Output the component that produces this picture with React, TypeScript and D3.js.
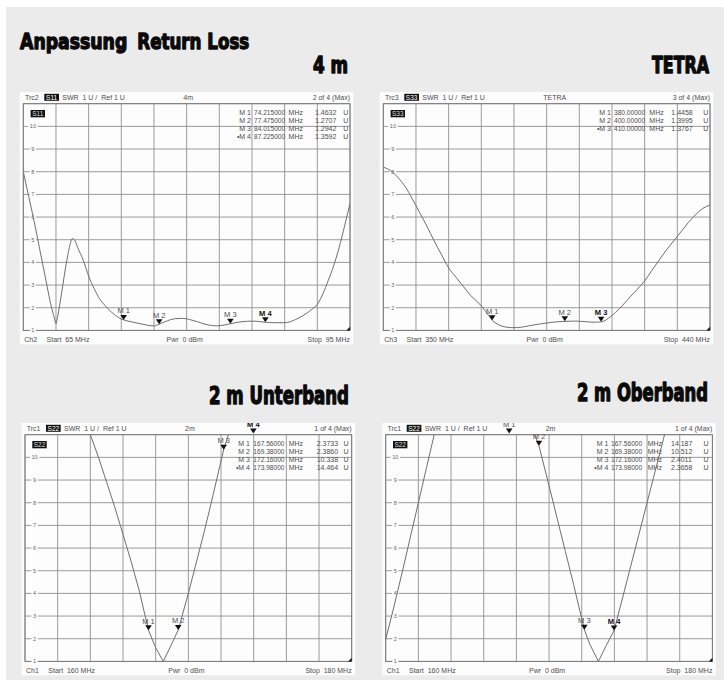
import React from "react";
import * as d3 from "d3";

const W = 724;
const H = 680;
const PW = 326.7;
const PH = 226.7;
const SWR_MIN = 1;
const SWR_MAX = 11;
const yTickValues = [1, 2, 3, 4, 5, 6, 7, 8, 9, 10];

const titleTexts = ["Anpassung", "Return Loss", "4 m", "TETRA", "2 m Unterband", "2 m Oberband"];

// ---------- Panel 1 : 4 m ----------
const p1Freq = [65, 65.5, 66, 66.5, 67, 67.5, 67.85, 68, 68.15, 68.5, 69, 69.3, 69.5, 69.75, 70, 70.5, 71, 71.5, 72, 72.5, 73, 73.5, 74, 74.215, 75, 76, 76.5, 77, 77.475, 78, 78.5, 79, 79.5, 80, 80.5, 81, 81.5, 82, 82.75, 83.5, 84.015, 84.5, 85, 85.5, 86, 86.5, 87.225, 88, 89, 89.5, 90, 90.5, 91, 91.5, 92, 92.5, 93, 93.5, 94, 94.5, 95];
const p1Swr = [8.0, 6.9, 5.8, 4.6, 3.4, 2.2, 1.55, 1.3, 1.6, 2.6, 4.1, 4.8, 5.05, 4.95, 4.65, 4.1, 3.4, 2.85, 2.4, 2.1, 1.85, 1.65, 1.5, 1.4632, 1.37, 1.27, 1.22, 1.2, 1.2707, 1.38, 1.47, 1.52, 1.53, 1.51, 1.45, 1.38, 1.3, 1.24, 1.2, 1.24, 1.2942, 1.34, 1.38, 1.4, 1.41, 1.4, 1.3592, 1.34, 1.34, 1.38, 1.48, 1.6, 1.75, 1.93, 2.15, 2.6, 3.2, 3.85, 4.65, 5.6, 6.6];
const p1MarkerNames = ["M 1", "M 2", "M 3", "M 4"];
const p1MarkerFreq = [74.215, 77.475, 84.015, 87.225];
const p1MarkerSwr = [1.4632, 1.2707, 1.2942, 1.3592];
const p1MarkerFreqText = ["74.215000", "77.475000", "84.015000", "87.225000"];
const p1MarkerSwrText = ["1.4632", "1.2707", "1.2942", "1.3592"];

// ---------- Panel 2 : TETRA ----------
const p2Freq = [350, 352, 354, 356, 358, 360, 362, 364, 366, 368, 370, 372, 374, 376, 377, 378, 379, 380, 381, 382, 384, 386, 388, 390, 393, 396, 400, 403, 406, 408, 410, 411, 412, 413, 414, 416, 418, 420, 422, 424, 426, 428, 430, 432, 434, 436, 438, 440];
const p2Swr = [8.2, 8.05, 7.75, 7.35, 6.8, 6.2, 5.6, 4.95, 4.35, 3.76, 3.35, 2.95, 2.55, 2.25, 2.08, 1.88, 1.66, 1.4458, 1.32, 1.23, 1.14, 1.12, 1.14, 1.2, 1.28, 1.35, 1.3995, 1.41, 1.38, 1.36, 1.3767, 1.43, 1.53, 1.66, 1.8, 2.12, 2.48, 2.82, 3.18, 3.65, 4.1, 4.55, 4.95, 5.35, 5.75, 6.1, 6.38, 6.53];
const p2MarkerNames = ["M 1", "M 2", "M 3"];
const p2MarkerFreq = [380, 400, 410];
const p2MarkerSwr = [1.4458, 1.3995, 1.3767];
const p2MarkerFreqText = ["380.00000", "400.00000", "410.00000"];
const p2MarkerSwrText = ["1.4458", "1.3995", "1.3767"];

// ---------- Panel 3 : 2 m Unterband ----------
const p3Freq = [163.5, 164.0, 164.5, 165.0, 165.5, 166.0, 166.5, 167.0, 167.56, 168.0, 168.47, 169.0, 169.38, 170.0, 170.5, 171.0, 171.5, 172.16, 173.98];
const p3Swr = [12.1, 11.0, 10.0, 8.9, 7.8, 6.6, 5.4, 4.1, 2.3733, 1.6, 1.0, 1.8, 2.386, 4.0, 5.4, 6.8, 8.3, 10.338, 14.464];
const p3MarkerNames = ["M 1", "M 2", "M 3", "M 4"];
const p3MarkerFreq = [167.56, 169.38, 172.16, 173.98];
const p3MarkerSwr = [2.3733, 2.386, 10.338, 14.464];
const p3MarkerFreqText = ["167.56000", "169.38000", "172.16000", "173.98000"];
const p3MarkerSwrText = ["2.3733", "2.3860", "10.338", "14.464"];

// ---------- Panel 4 : 2 m Oberband ----------
const p4Freq = [160, 160.5, 161, 161.5, 162, 162.5, 163, 167.56, 169.38, 170, 170.5, 171, 171.5, 172.16, 172.5, 173.02, 173.5, 173.98, 174.5, 175, 175.5, 176, 176.5, 177, 177.5];
const p4Swr = [1.97, 3.4, 4.9, 6.45, 8.0, 9.55, 11.1, 14.187, 10.512, 8.75, 7.3, 5.85, 4.4, 2.4011, 1.75, 1.0, 1.7, 2.3658, 3.8, 5.2, 6.6, 8.0, 9.4, 10.8, 12.2];
const p4MarkerNames = ["M 1", "M 2", "M 3", "M 4"];
const p4MarkerFreq = [167.56, 169.38, 172.16, 173.98];
const p4MarkerSwr = [14.187, 10.512, 2.4011, 2.3658];
const p4MarkerFreqText = ["167.56000", "169.38000", "172.16000", "173.98000"];
const p4MarkerSwrText = ["14.187", "10.512", "2.4011", "2.3658"];

type PanelData = {
  freq: number[];
  swr: number[];
  fmin: number;
  fmax: number;
  trc: string;
  param: string;
  name: string;
  count: string;
  ch: string;
  start: string;
  stop: string;
  mNames: string[];
  mFreq: number[];
  mSwr: number[];
  mFreqText: string[];
  mSwrText: string[];
  active: number;
  linear: boolean;
};

const panels: PanelData[] = [
  { freq: p1Freq, swr: p1Swr, fmin: 65, fmax: 95, trc: "Trc2", param: "S11", name: "4m", count: "2 of 4 (Max)", ch: "Ch2", start: "Start  65 MHz", stop: "Stop  95 MHz", mNames: p1MarkerNames, mFreq: p1MarkerFreq, mSwr: p1MarkerSwr, mFreqText: p1MarkerFreqText, mSwrText: p1MarkerSwrText, active: 3, linear: false },
  { freq: p2Freq, swr: p2Swr, fmin: 350, fmax: 440, trc: "Trc3", param: "S33", name: "TETRA", count: "3 of 4 (Max)", ch: "Ch3", start: "Start  350 MHz", stop: "Stop  440 MHz", mNames: p2MarkerNames, mFreq: p2MarkerFreq, mSwr: p2MarkerSwr, mFreqText: p2MarkerFreqText, mSwrText: p2MarkerSwrText, active: 2, linear: false },
  { freq: p3Freq, swr: p3Swr, fmin: 160, fmax: 180, trc: "Trc1", param: "S22", name: "2m", count: "1 of 4 (Max)", ch: "Ch1", start: "Start  160 MHz", stop: "Stop  180 MHz", mNames: p3MarkerNames, mFreq: p3MarkerFreq, mSwr: p3MarkerSwr, mFreqText: p3MarkerFreqText, mSwrText: p3MarkerSwrText, active: 3, linear: true },
  { freq: p4Freq, swr: p4Swr, fmin: 160, fmax: 180, trc: "Trc1", param: "S22", name: "2m", count: "1 of 4 (Max)", ch: "Ch1", start: "Start  160 MHz", stop: "Stop  180 MHz", mNames: p4MarkerNames, mFreq: p4MarkerFreq, mSwr: p4MarkerSwr, mFreqText: p4MarkerFreqText, mSwrText: p4MarkerSwrText, active: 3, linear: true },
];

const layouts = [
  { x0: 23.3, y0: 103.7, cols: [227.7, 230.7, 264.3, 291.7, 320] },
  { x0: 383.3, y0: 103.7, cols: [227.7, 230.7, 265, 288, 320] },
  { x0: 25, y0: 434.7, cols: [225, 228.3, 262.7, 291.7, 318.5] },
  { x0: 385.7, y0: 434.7, cols: [222.7, 225.3, 261, 285.3, 317.7] },
];

const FONT = "'Liberation Sans', Arial, sans-serif";
const TITLE_FONT = "'DejaVu Sans Condensed', 'DejaVu Sans', sans-serif";
const TXT = "#4d4d4d";
const GRID = "#8e8e8e";

function Panel({ d, L, id }: { d: PanelData; L: { x0: number; y0: number; cols: number[] }; id: number }) {
  const { x0, y0, cols } = L;
  const x = d3.scaleLinear().domain([d.fmin, d.fmax]).range([x0, x0 + PW]);
  const y = d3.scaleLinear().domain([SWR_MIN, SWR_MAX]).range([y0 + PH, y0]);
  const vTicks = d3.range(11).map((i) => d.fmin + (i * (d.fmax - d.fmin)) / 10);
  const hTicks = d3.range(SWR_MIN, SWR_MAX + 1);
  const line = d3
    .line<number>()
    .x((_, i) => x(d.freq[i]))
    .y((v) => y(v))
    .curve(d.linear ? d3.curveLinear : d3.curveMonotoneX);
  const path = line(d.swr) || "";
  const wx = x0 - 3.5;
  const wy = y0 - 11.7;
  const ww = PW + 6.8;
  const wh = PH + 25.6;
  const x1 = x0 + PW;
  const y1 = y0 + PH;
  const hb = y0 - 3.8;
  const fb = y1 + 11.3;
  return (
    <g>
      <defs>
        <clipPath id={`plot${id}`}>
          <rect x={x0} y={y0} width={PW} height={PH} />
        </clipPath>
        <clipPath id={`panel${id}`}>
          <rect x={wx} y={wy} width={ww} height={wh} />
        </clipPath>
      </defs>
      <rect x={wx} y={wy} width={ww} height={wh} fill="#fdfdfd" />
      <g fontFamily={FONT} fontSize={7} fill={TXT}>
        <text x={x0 + 1.7} y={hb}>{d.trc}</text>
        <rect x={x0 + 21} y={y0 - 9.9} width={14.7} height={7} fill="#111" />
        <text x={x0 + 28.35} y={hb - 0.4} fill="#fff" textAnchor="middle" fontSize={6.5}>{d.param}</text>
        <text x={x0 + 39} y={hb} xmlSpace="preserve" style={{ whiteSpace: "pre" }}>{"SWR  1 U /  Ref 1 U"}</text>
        <text x={x0 + 160} y={hb}>{d.name}</text>
        <text x={x1} y={hb} textAnchor="end">{d.count}</text>
      </g>
      <g stroke={GRID} strokeWidth={0.9}>
        {vTicks.map((f, i) => (
          <line key={`v${i}`} x1={x(f)} x2={x(f)} y1={y0} y2={y1} />
        ))}
        {hTicks.map((v, i) => (
          <line key={`h${i}`} x1={x0} x2={x1} y1={y(v)} y2={y(v)} />
        ))}
      </g>
      <rect x={x0} y={y0} width={PW} height={PH} fill="none" stroke="#777" strokeWidth={0.9} />
      <g fontFamily={FONT} fontSize={5.5} fill="#666" textAnchor="middle">
        {yTickValues.map((v) => {
          const s = String(v);
          const w = s.length * 3.2 + 3;
          return (
            <g key={`yl${v}`}>
              <rect x={x0 + 9.6 - w / 2} y={y(v) - 2.6} width={w} height={5.2} fill="#fdfdfd" />
              <text x={x0 + 9.6} y={y(v) + 2}>{s}</text>
            </g>
          );
        })}
      </g>
      <rect x={x0 + 7.3} y={y0 + 6.3} width={14.4} height={7.3} fill="#111" />
      <text x={x0 + 14.5} y={y0 + 12.2} fill="#ddd" fontFamily={FONT} fontSize={6.5} textAnchor="middle">{d.param}</text>
      <g fontFamily={FONT} fontSize={7} fill={TXT}>
        {d.mNames.map((n, i) => {
          const by = y0 + 10.8 + i * 8.3;
          return (
            <g key={`t${i}`}>
              <text x={x0 + cols[0]} y={by} textAnchor="end">{(i === d.active ? "\u2022" : "") + n}</text>
              <text x={x0 + cols[1]} y={by} fontSize={6.6}>{d.mFreqText[i]}</text>
              <text x={x0 + cols[2] + 1} y={by}>MHz</text>
              <text x={x0 + cols[3]} y={by}>{d.mSwrText[i]}</text>
              <text x={x0 + cols[4]} y={by}>U</text>
            </g>
          );
        })}
      </g>
      <path d={path} fill="none" stroke="#6e6e6e" strokeWidth={1} clipPath={`url(#plot${id})`} />
      <path d={`M${x1},${y1} L${x1},${y1 - 3.6} L${x1 - 3.6},${y1} Z`} fill="#111" />
      <g clipPath={`url(#panel${id})`}>
        {d.mNames.map((n, i) => {
          const cx = x(d.mFreq[i]);
          const off = d.mSwr[i] > SWR_MAX;
          const tip = off ? y0 - 1.3 : y(d.mSwr[i]);
          const act = i === d.active;
          return (
            <g key={`m${i}`}>
              <path d={`M${cx - 3.3},${tip - 5} L${cx + 3.3},${tip - 5} L${cx},${tip} Z`} fill="#111" />
              <text
                x={cx}
                y={tip - 6.6}
                textAnchor="middle"
                fontFamily={FONT}
                fontSize={7.5}
                fontWeight={act ? "bold" : "normal"}
                fill={act ? "#111" : TXT}
              >
                {n}
              </text>
            </g>
          );
        })}
      </g>
      <g fontFamily={FONT} fontSize={7} fill={TXT}>
        <text x={x0 + 1} y={fb}>{d.ch}</text>
        <text x={x0 + 23.3} y={fb} xmlSpace="preserve" style={{ whiteSpace: "pre" }}>{d.start}</text>
        <text x={x0 + 143.3} y={fb} xmlSpace="preserve" style={{ whiteSpace: "pre" }}>{"Pwr  0 dBm"}</text>
        <text x={x1} y={fb} textAnchor="end" xmlSpace="preserve" style={{ whiteSpace: "pre" }}>{d.stop}</text>
      </g>
    </g>
  );
}

const TITLE_VSCALE = 1.3;
const titleLayout = [
  { x: 20, y: 49, len: 107.3, fs: 22 },
  { x: 137.3, y: 49, len: 112, fs: 22 },
  { x: 313, y: 73, len: 35, fs: 22.5 },
  { x: 652, y: 73, len: 57, fs: 22.5 },
  { x: 209, y: 404, len: 140, fs: 24 },
  { x: 577, y: 401, len: 131, fs: 24 },
];

export default function App() {
  return (
    <svg width={W} height={H} style={{ position: "absolute", left: 0, top: 0 }} xmlns="http://www.w3.org/2000/svg">
      <rect x={0} y={0} width={W} height={H} fill="#ffffff" />
      <rect x={6} y={7} width={W - 6} height={H - 7} fill="#ebebeb" />
      {titleTexts.map((t, i) => {
        const tl = titleLayout[i];
        return (
          <g key={`title${i}`} transform={`translate(${tl.x},${tl.y}) scale(1,${TITLE_VSCALE})`}>
            <text
              x={0}
              y={0}
              fontFamily={TITLE_FONT}
              fontWeight="bold"
              fontSize={tl.fs / TITLE_VSCALE}
              fill="#0a0a0a"
              stroke="#0a0a0a"
              strokeWidth={1.0}
              strokeLinejoin="round"
              textLength={tl.len}
              lengthAdjust="spacingAndGlyphs"
            >
              {t}
            </text>
          </g>
        );
      })}
      {panels.map((p, i) => (
        <Panel key={`p${i}`} d={p} L={layouts[i]} id={i} />
      ))}
    </svg>
  );
}
